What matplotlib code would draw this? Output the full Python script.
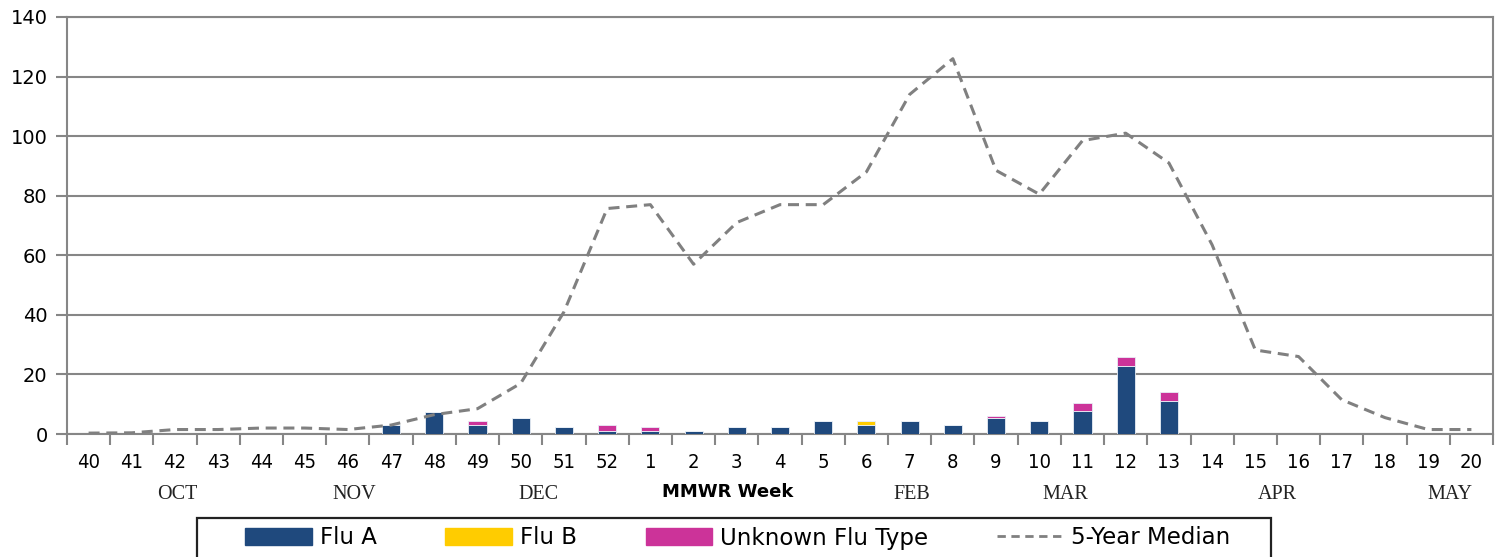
import numpy as np
import matplotlib
matplotlib.use("Agg")
import matplotlib.pyplot as plt
from matplotlib.patches import Patch, Rectangle
from matplotlib.lines import Line2D
import matplotlib.transforms as mtransforms

# MMWR weeks, season week 40 through week 20
weeks = [str(w) for w in range(40, 53)] + [str(w) for w in range(1, 21)]

flu_a = [0, 0, 0, 0, 0, 0, 0, 3, 7.3, 3, 5.4, 2.2, 1, 1, 1, 2.2, 2.2, 4.2, 3, 4.2, 3, 5.4,
         4.2, 7.7, 22.8, 11, 0, 0, 0, 0, 0, 0, 0]
flu_b = [0, 0, 0, 0, 0, 0, 0, 0, 0, 0, 0, 0, 0, 0, 0, 0, 0, 0, 1.2, 0, 0, 0,
         0, 0, 0, 0, 0, 0, 0, 0, 0, 0, 0]
unknown = [0, 0, 0, 0, 0, 0, 0, 0, 0, 1.2, 0, 0, 1.9, 1.2, 0, 0, 0, 0, 0, 0, 0, 0.6,
           0, 2.6, 3.2, 3.1, 0, 0, 0, 0, 0, 0, 0]
median5 = [0.3, 0.4, 1.5, 1.5, 2, 2, 1.5, 3, 6.5, 8.5, 17, 41, 75.7, 77, 57, 71,
           77, 77, 88, 114, 126, 88.5, 80.5, 98.5, 101, 91, 63.5, 28.2, 26, 11.5,
           5.5, 1.5, 1.5]

months = ["OCT", "NOV", "DEC", "FEB", "MAR", "APR", "MAY"]
month_pos = [2.05, 6.15, 10.4, 19.05, 22.6, 27.5, 31.5]

c_a = "#1F497D"
c_b = "#FFCC00"
c_u = "#CC3399"
c_line = "#808080"
c_grid = "#868686"

fig = plt.figure(figsize=(15.05, 5.57), dpi=100)
ax = fig.add_axes([67 / 1505, 1 - 434 / 557, 1426 / 1505, 417 / 557])

x = np.arange(len(weeks))
a = np.array(flu_a)
b = np.array(flu_b)
u = np.array(unknown)
w = 0.42
ax.bar(x, a, w, color=c_a, edgecolor="#E8EEF5", linewidth=0.6, zorder=3)
ax.bar(x, b, w, bottom=a, color=c_b, edgecolor="#E8EEF5", linewidth=0.6, zorder=3)
ax.bar(x, u, w, bottom=a + b, color=c_u, edgecolor="#E8EEF5", linewidth=0.6, zorder=3)
ax.plot(x, median5, color=c_line, linestyle=(0, (3.6, 2.2)), linewidth=2.2, zorder=4)

ax.set_xlim(-0.5, len(weeks) - 0.5)
ax.set_ylim(0, 140)
ax.set_yticks(range(0, 141, 20))
ax.yaxis.grid(True, color=c_grid, linewidth=1.5)
ax.set_axisbelow(True)
for s in ax.spines.values():
    s.set_color(c_grid)
    s.set_linewidth(1.5)

ax.set_xticks(x)
ax.set_xticklabels(weeks, fontsize=14.5, fontstretch="condensed")
ax.set_xticks(np.arange(-0.5, len(weeks)), minor=True)
ax.tick_params(axis="x", which="major", length=0, pad=14)
ax.tick_params(axis="x", which="minor", length=8, width=1.5, color=c_grid)
ax.tick_params(axis="y", length=8, width=1.5, color=c_grid, labelsize=14, pad=6)

trans = mtransforms.blended_transform_factory(ax.transData, ax.transAxes)
for m, p in zip(months, month_pos):
    ax.text(p, -0.145, m, transform=trans, ha="center", va="center",
            family="Liberation Serif", fontsize=14.5, color="#222222")
ax.text(14.8, -0.14, "MMWR Week", transform=trans, ha="center", va="center",
        fontsize=13, fontweight="bold")

# legend box runs off the bottom edge
fig.patches.append(Rectangle((197 / 1505, -0.05), 1074 / 1505, 0.05 + 1 - 518 / 557,
                             transform=fig.transFigure, fill=False,
                             edgecolor="#222222", linewidth=1.6))
handles = [Patch(color=c_a), Patch(color=c_b), Patch(color=c_u),
           Line2D([0], [0], color=c_line, linestyle=(0, (3, 2)), linewidth=2)]
labels = ["Flu A", "Flu B", "Unknown Flu Type", "5-Year Median"]
fig.legend(handles, labels, loc="center", bbox_to_anchor=(738 / 1505, 1 - 538 / 557),
           ncol=4, frameon=False, fontsize=16.5, handlelength=2.9, handleheight=0.8,
           columnspacing=3.0, handletextpad=0.35)

fig.savefig("out.png", dpi=100)
